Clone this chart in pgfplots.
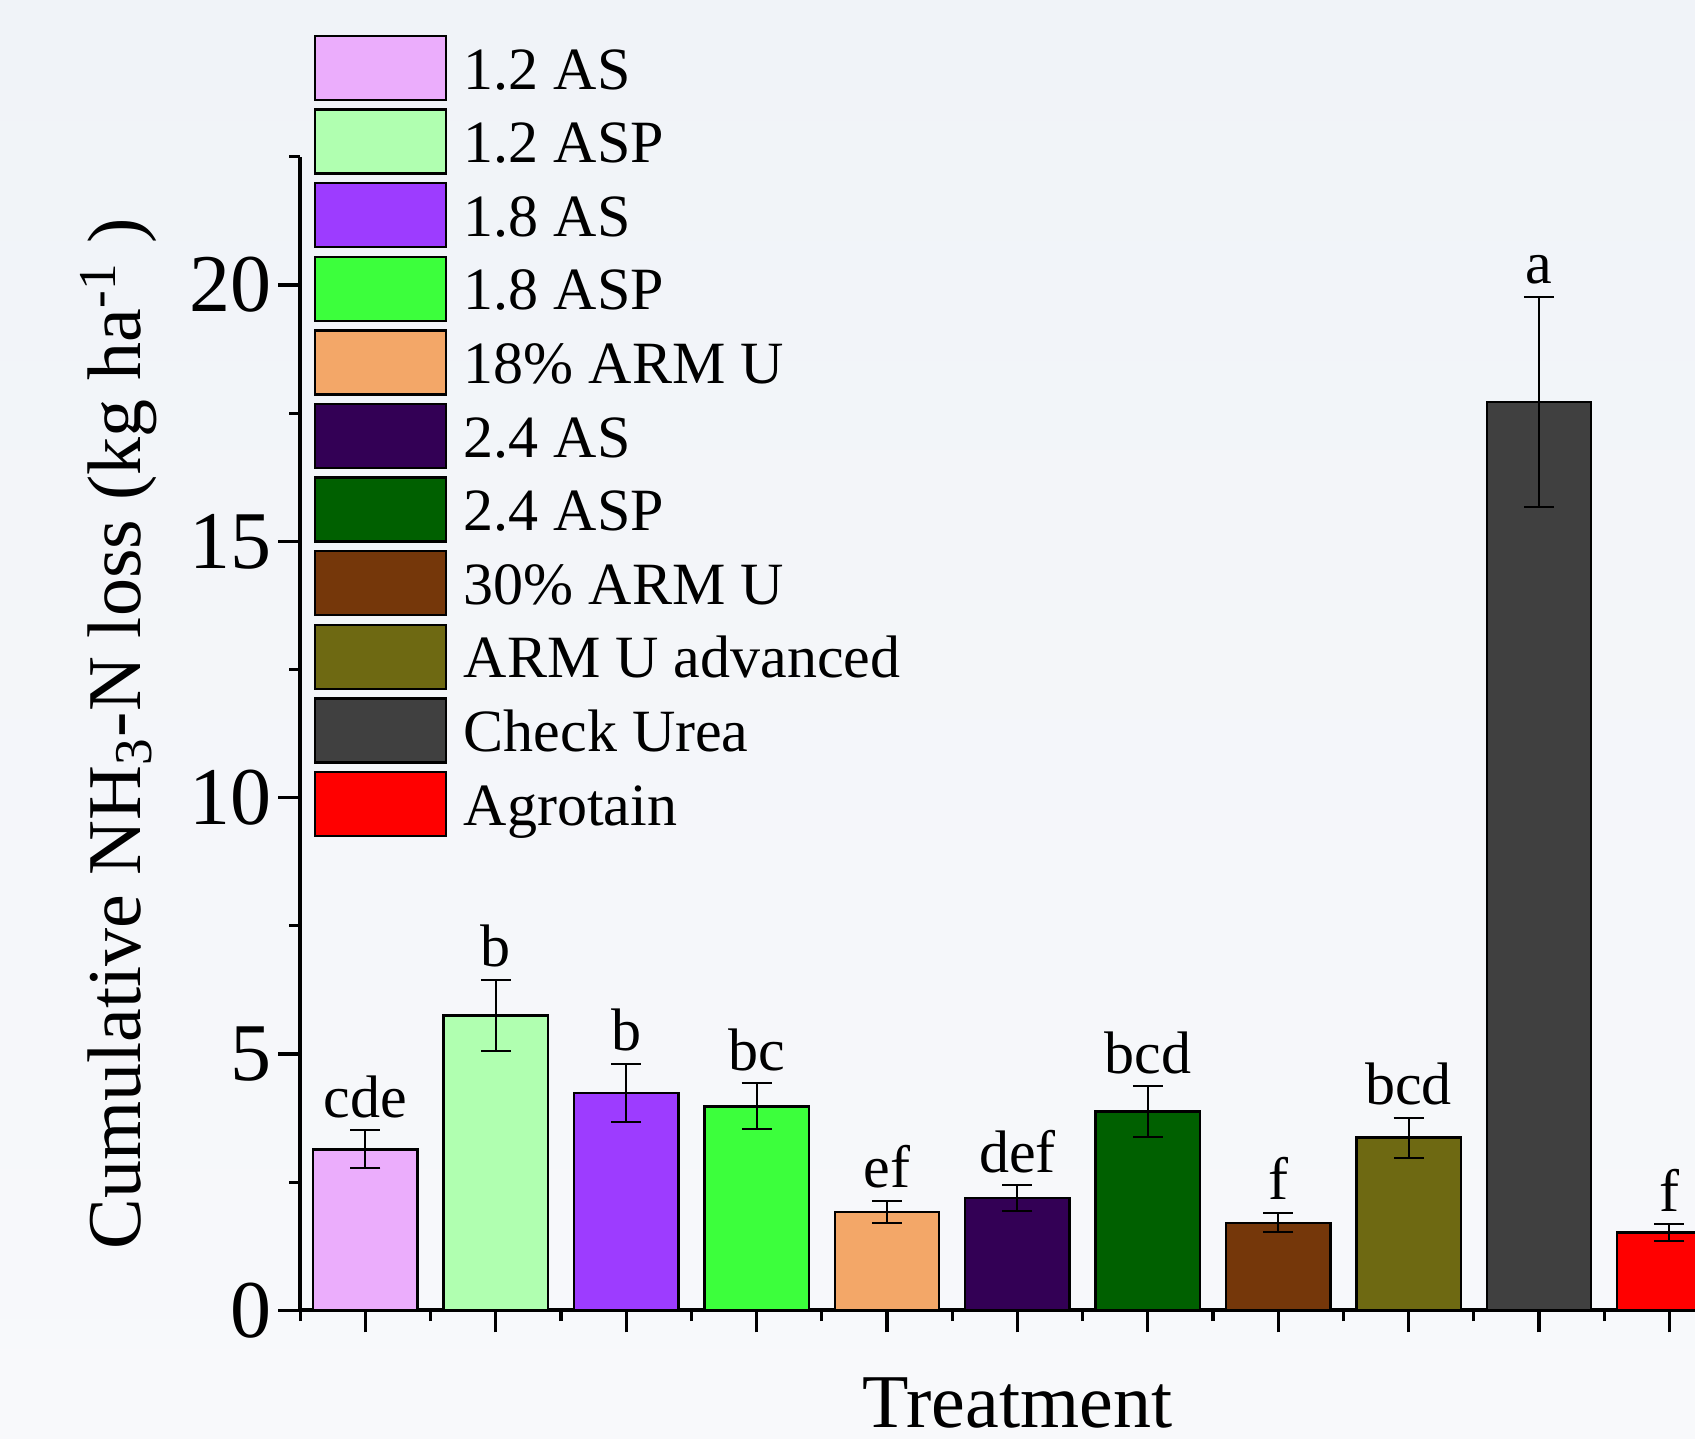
\documentclass[border=0pt]{standalone}
\usepackage{pgfplots}
\pgfplotsset{compat=1.18}
\usepackage{fontspec}
\setmainfont{Liberation Serif}
\definecolor{bgtop}{HTML}{F0F3F8}
\definecolor{bgbot}{HTML}{F8F9FB}
\definecolor{cA}{HTML}{EBADFC}
\definecolor{cB}{HTML}{B0FFB0}
\definecolor{cC}{HTML}{9D3CFF}
\definecolor{cD}{HTML}{3CFF3C}
\definecolor{cE}{HTML}{F3A768}
\definecolor{cF}{HTML}{330055}
\definecolor{cG}{HTML}{006000}
\definecolor{cH}{HTML}{75370A}
\definecolor{cI}{HTML}{6E6912}
\definecolor{cJ}{HTML}{404040}
\definecolor{cK}{HTML}{FF0000}
\pgfplotsset{
  mybar/.style={ybar, bar width=0.8, bar shift=0pt, draw=black, line width=0.6pt, fill=#1,
    error bars/y dir=both, error bars/y explicit,
    error bars/error bar style={line width=0.5pt, black, solid},
    error bars/error mark options={rotate=90, mark size=3.75pt, line width=0.5pt, black}},
}
\begin{document}
\begin{tikzpicture}
\shade[top color=bgtop, bottom color=bgbot] (-75.05pt,-31.9pt) rectangle (348.7pt,327.6pt);
\begin{axis}[
  scale only axis, width=358.6pt, height=288.4pt,
  xmin=-0.5, xmax=10.5, ymin=0, ymax=22.5,
  axis x line=bottom, axis y line=left,
  axis line style={-, line width=1pt, black},
  tick align=outside,
  xtick={0,...,10}, xticklabels={}, minor xtick={-0.5,0.5,...,10.5},
  ytick={0,5,10,15,20}, minor ytick={2.5,7.5,12.5,17.5,22.5},
  major tick length=5.5pt, minor tick length=2.7pt,
  every tick/.style={black, line width=0.8pt},
  /pgf/number format/assume math mode=true,
  tick label style={font=\fontsize{20.5}{20.5}\selectfont},
  yticklabel style={inner sep=1.5pt},
  ylabel={Cumulative NH\textsubscript{3}-N loss (kg ha\textsuperscript{-1} )},
  ylabel style={at={(axis description cs:-0.1115,0.5)}, anchor=base, font=\fontsize{19}{19}\selectfont},
  xlabel={Treatment},
  xlabel style={at={(axis description cs:0.5,-0.1016)}, anchor=base, font=\fontsize{19}{19}\selectfont},
  legend image code/.code={\draw[#1] (0pt,-6.45pt) rectangle (32.7pt,9.55pt);},
  legend style={at={(axis description cs:0.00948,1.1058)}, anchor=north west, draw=none, fill=none,
    inner sep=0pt, outer sep=0pt, row sep=1.3pt, column sep=4.2pt,
    font=\fontsize{15}{15}\selectfont, nodes={inner sep=0pt, text height=11pt, text depth=3.5pt}},
  legend cell align=left,
]
\addplot[mybar=cA] coordinates {(0,3.14) +- (0,0.37)};
\addlegendentry{1.2 AS}
\addplot[mybar=cB] coordinates {(1,5.75) +- (0,0.70)};
\addlegendentry{1.2 ASP}
\addplot[mybar=cC] coordinates {(2,4.24) +- (0,0.57)};
\addlegendentry{1.8 AS}
\addplot[mybar=cD] coordinates {(3,3.98) +- (0,0.45)};
\addlegendentry{1.8 ASP}
\addplot[mybar=cE] coordinates {(4,1.92) +- (0,0.22)};
\addlegendentry{18\%  ARM U}
\addplot[mybar=cF] coordinates {(5,2.19) +- (0,0.25)};
\addlegendentry{2.4 AS}
\addplot[mybar=cG] coordinates {(6,3.88) +- (0,0.49)};
\addlegendentry{2.4 ASP}
\addplot[mybar=cH] coordinates {(7,1.71) +- (0,0.19)};
\addlegendentry{30\%  ARM U}
\addplot[mybar=cI] coordinates {(8,3.37) +- (0,0.39)};
\addlegendentry{ARM U advanced}
\addplot[mybar=cJ] coordinates {(9,17.72) +- (0,2.05)};
\addlegendentry{Check Urea}
\addplot[mybar=cK] coordinates {(10,1.52) +- (0,0.16)};
\addlegendentry{Agrotain}
\addplot[forget plot, draw=none, mark=none, nodes near coords, point meta=explicit symbolic,
  every node near coord/.append style={anchor=base, yshift=3.3pt, inner sep=0pt, font=\fontsize{15}{15}\selectfont, black}]
  table[x=x, y expr=\thisrow{y}+\thisrow{e}, meta=l] {
x y e l
0 3.14 0.37 cde
1 5.75 0.70 b
2 4.24 0.57 b
3 3.98 0.45 bc
4 1.92 0.22 ef
5 2.19 0.25 def
6 3.88 0.49 bcd
7 1.71 0.19 f
8 3.37 0.39 bcd
9 17.72 2.05 a
10 1.52 0.16 f
};
\end{axis}
\pgfresetboundingbox
\path[use as bounding box] (-75.05pt,-31.9pt) rectangle (348.7pt,327.6pt);
\end{tikzpicture}
\end{document}
